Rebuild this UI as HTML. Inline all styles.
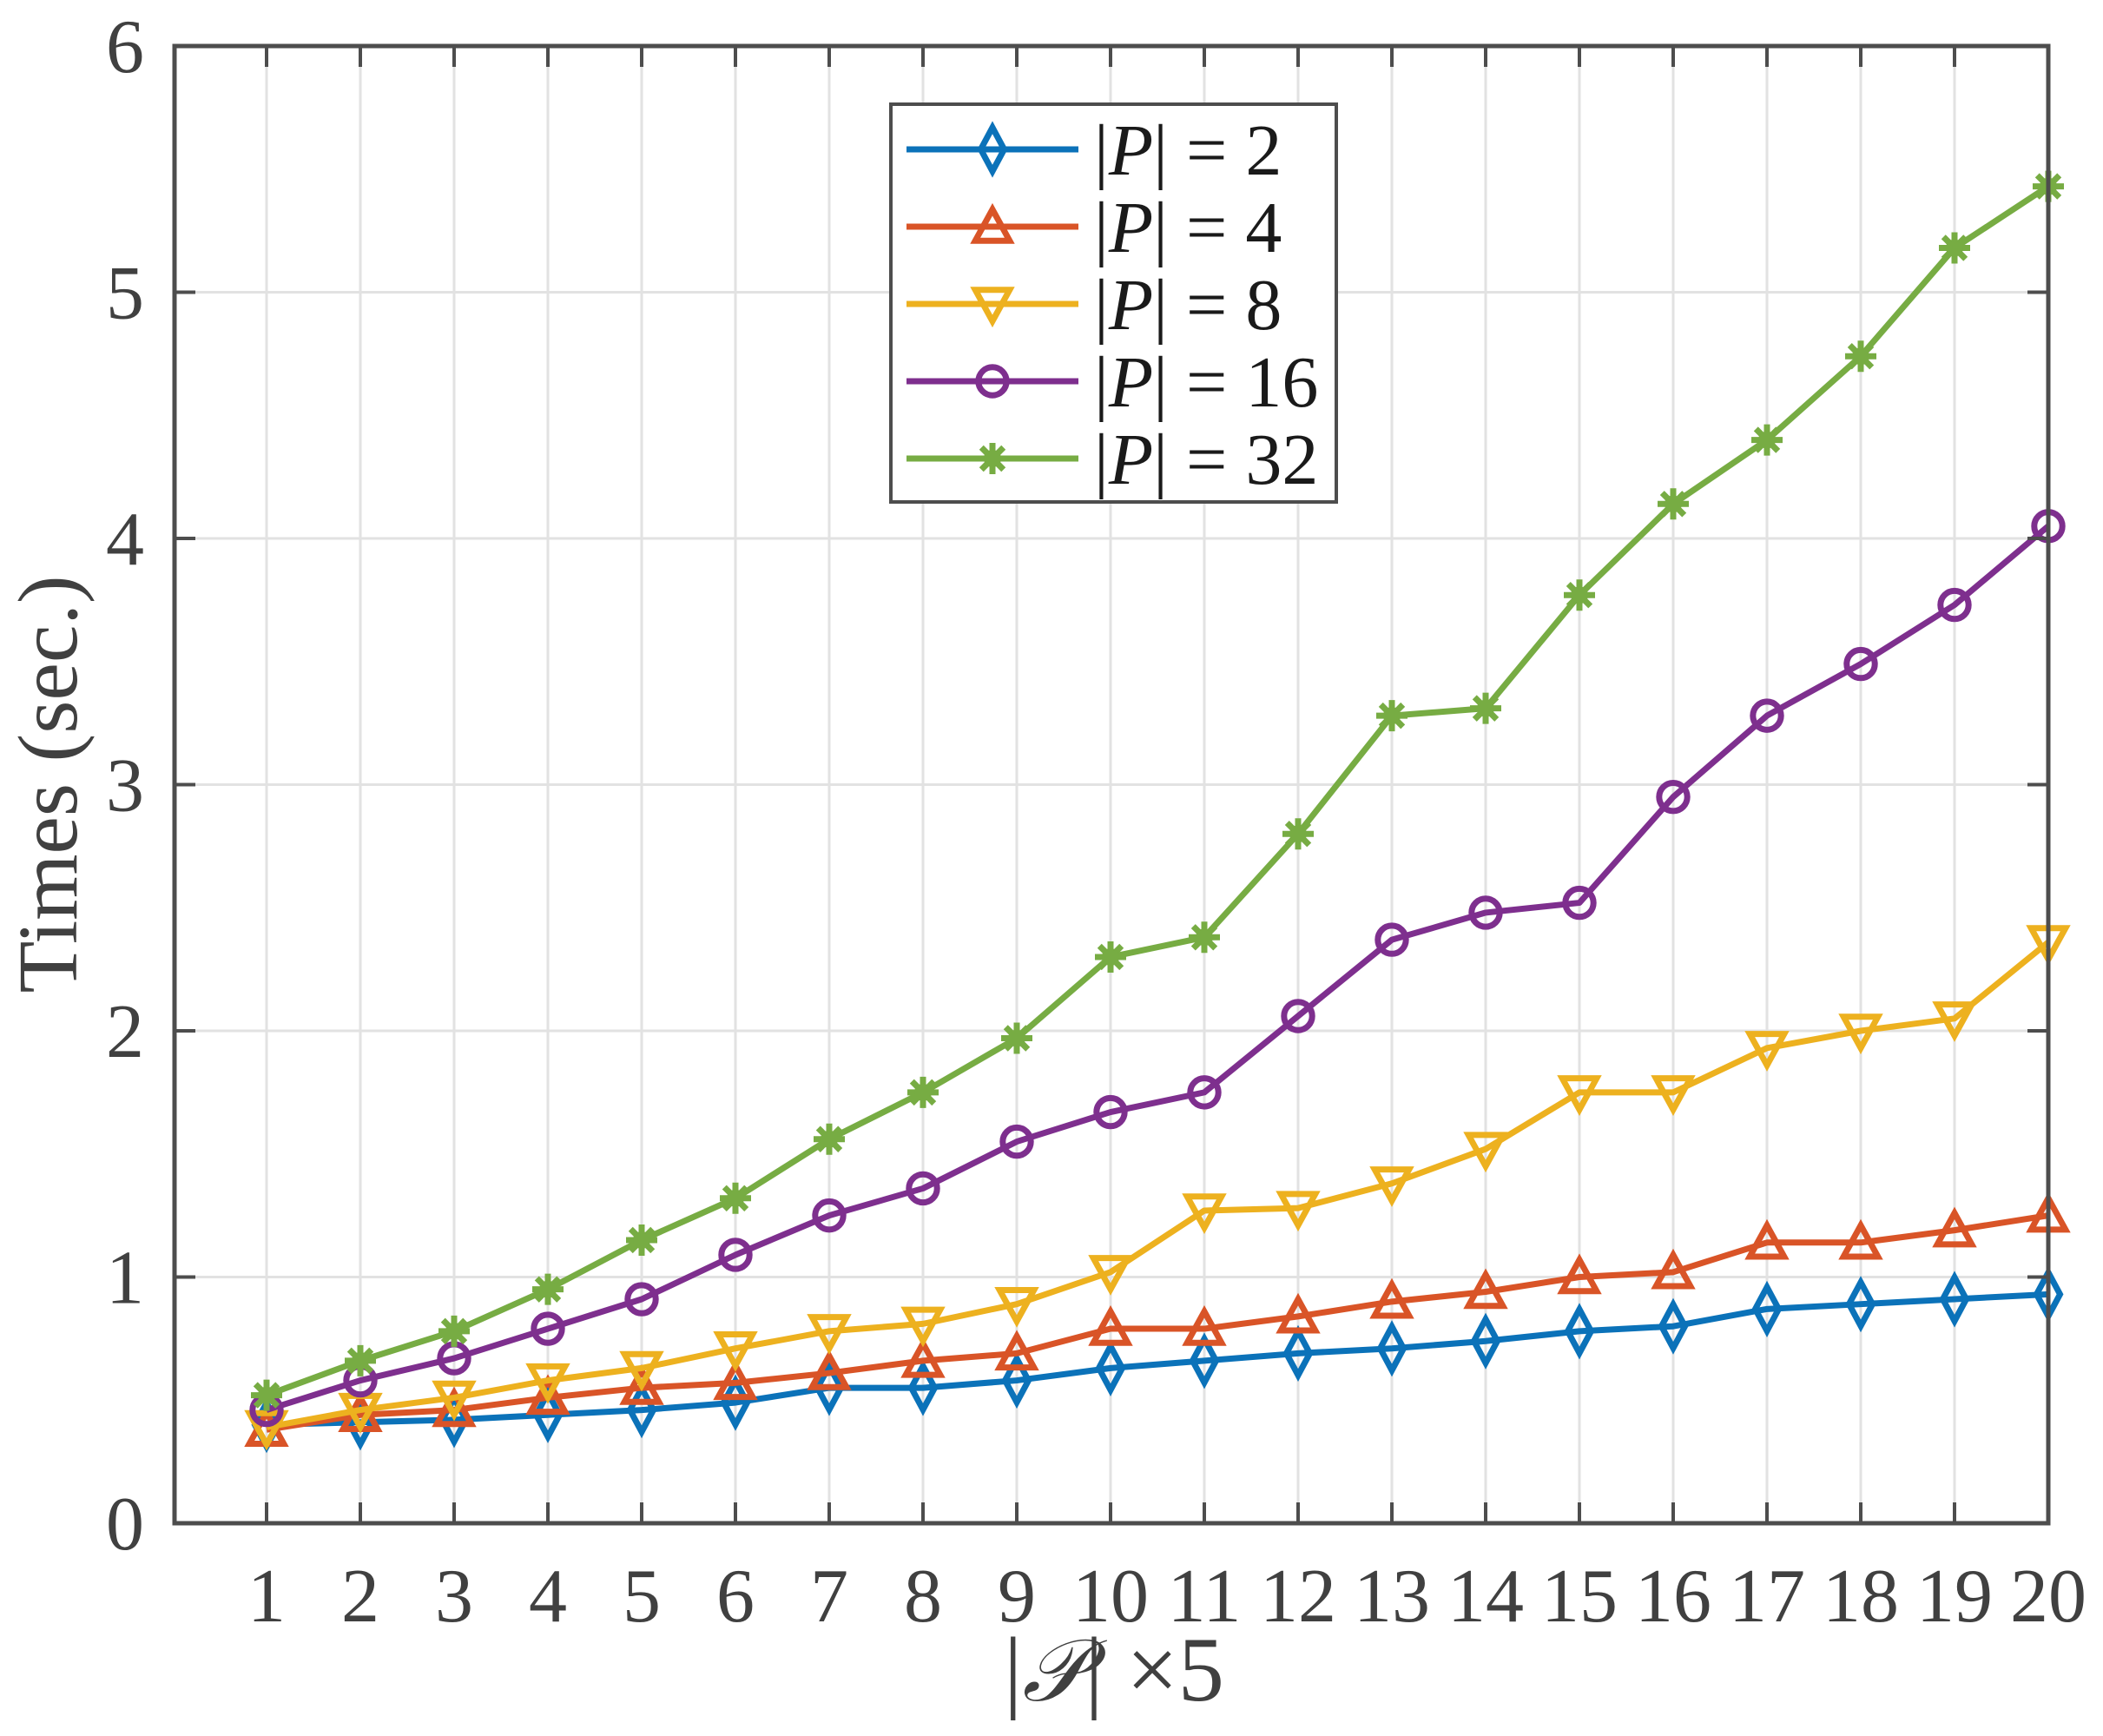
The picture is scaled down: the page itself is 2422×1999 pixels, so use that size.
<!DOCTYPE html>
<html><head><meta charset="utf-8"><style>
body{margin:0;background:#fff}
svg{display:block}
</style></head><body>
<svg id="s" width="2422" height="1999" xmlns="http://www.w3.org/2000/svg">
<rect width="2422" height="1999" fill="#fff"/>
<g id="grid"></g><g id="data"></g><g id="axes"></g>
<g font-family="Liberation Serif, serif" fill="#404040">
<g id="labels" font-size="88"></g>
<text x="0" y="0" font-size="98" text-anchor="middle" transform="translate(88,903) rotate(-90)">Times (sec.)</text>
<text x="1283" y="1958" font-size="106" text-anchor="middle"><tspan>|</tspan><tspan font-style="italic" font-size="100">𝒫</tspan><tspan>| ×5</tspan></text>
</g>
<g id="legend"></g>
</svg>
<script>
const NS="http://www.w3.org/2000/svg";
const L=201,R=2359,T=53,B=1754;
const X=i=>307+(i-1)*108, Y=v=>B-v*(B-T)/6;
function el(p,t,a,txt){const e=document.createElementNS(NS,t);for(const k in a)e.setAttribute(k,a[k]);if(txt!==undefined)e.textContent=txt;document.getElementById(p).appendChild(e);return e;}
for(let i=1;i<=20;i++){el('grid','line',{x1:X(i),x2:X(i),y1:T,y2:B,stroke:'#e2e2e2','stroke-width':3});
 el('axes','line',{x1:X(i),x2:X(i),y1:B,y2:B-24,stroke:'#4d4d4d','stroke-width':4});
 el('axes','line',{x1:X(i),x2:X(i),y1:T,y2:T+24,stroke:'#4d4d4d','stroke-width':4});
 el('labels','text',{x:X(i),y:1867,'text-anchor':'middle'},String(i));}
for(let v=0;v<=6;v++){const y=Y(v);if(v>0&&v<6)el('grid','line',{x1:L,x2:R,y1:y,y2:y,stroke:'#e2e2e2','stroke-width':3});
 el('axes','line',{x1:L,x2:L+24,y1:y,y2:y,stroke:'#4d4d4d','stroke-width':4});
 el('axes','line',{x1:R,x2:R-24,y1:y,y2:y,stroke:'#4d4d4d','stroke-width':4});
 el('labels','text',{x:166,y:y+30,'text-anchor':'end'},String(v));}
el('axes','rect',{x:L,y:T,width:R-L,height:B-T,fill:'none',stroke:'#4d4d4d','stroke-width':5});
const S=[
['#0b72b9','d',[.40,.41,.42,.44,.46,.49,.55,.55,.58,.63,.66,.69,.71,.74,.78,.80,.87,.89,.91,.93]],
['#d95427','u',[.38,.44,.46,.51,.55,.57,.61,.66,.69,.79,.79,.84,.90,.94,1.0,1.02,1.14,1.14,1.19,1.25]],
['#edb11f','v',[.39,.46,.51,.58,.63,.71,.78,.81,.89,1.02,1.27,1.28,1.38,1.52,1.75,1.75,1.93,2.0,2.05,2.36]],
['#7e2f8e','o',[.46,.58,.67,.79,.91,1.09,1.25,1.36,1.55,1.67,1.75,2.06,2.37,2.48,2.52,2.95,3.28,3.49,3.73,4.05]],
['#77ac43','*',[.52,.66,.78,.95,1.15,1.32,1.56,1.75,1.97,2.30,2.38,2.80,3.28,3.31,3.77,4.14,4.40,4.74,5.18,5.43]]];
function mark(g,t,x,y,c){const s=18;
 if(t=='d')el(g,'polygon',{points:`${x},${y-s*1.4} ${x+s*0.75},${y} ${x},${y+s*1.4} ${x-s*0.75},${y}`,fill:'none',stroke:c,'stroke-width':7});
 if(t=='u')el(g,'polygon',{points:`${x},${y-s*1.1} ${x+s*1.1},${y+s*0.9} ${x-s*1.1},${y+s*0.9}`,fill:'none',stroke:c,'stroke-width':7});
 if(t=='v')el(g,'polygon',{points:`${x},${y+s*1.1} ${x+s*1.1},${y-s*0.9} ${x-s*1.1},${y-s*0.9}`,fill:'none',stroke:c,'stroke-width':7});
 if(t=='o')el(g,'circle',{cx:x,cy:y,r:s*0.9,fill:'none',stroke:c,'stroke-width':7});
 if(t=='*'){for(let a=0;a<4;a++){const an=a*Math.PI/4;el(g,'line',{x1:x-s*Math.cos(an),y1:y-s*Math.sin(an),x2:x+s*Math.cos(an),y2:y+s*Math.sin(an),stroke:c,'stroke-width':7});}el(g,'circle',{cx:x,cy:y,r:10,fill:c});}}
S.forEach(([c,t,d])=>{el('data','polyline',{points:d.map((v,i)=>X(i+1)+','+Y(v)).join(' '),fill:'none',stroke:c,'stroke-width':7,'stroke-linejoin':'round'});
 d.forEach((v,i)=>mark('data',t,X(i+1),Y(v),c));});
el('legend','rect',{x:1026,y:120,width:513,height:458,fill:'#fff',stroke:'#4d4d4d','stroke-width':4});
const lab=['2','4','8','16','32'];
S.forEach(([c,t],k)=>{const y=172+k*89;
 el('legend','line',{x1:1044,x2:1242,y1:y,y2:y,stroke:c,'stroke-width':7});
 mark('legend',t,1143,y,c);
 const tx=el('legend','text',{x:1260,y:y+29,'font-family':'Liberation Serif, serif','font-size':84,fill:'#1a1a1a'});
 tx.innerHTML='|<tspan font-style="italic">P</tspan>| = '+lab[k];});
</script>
</body></html>
